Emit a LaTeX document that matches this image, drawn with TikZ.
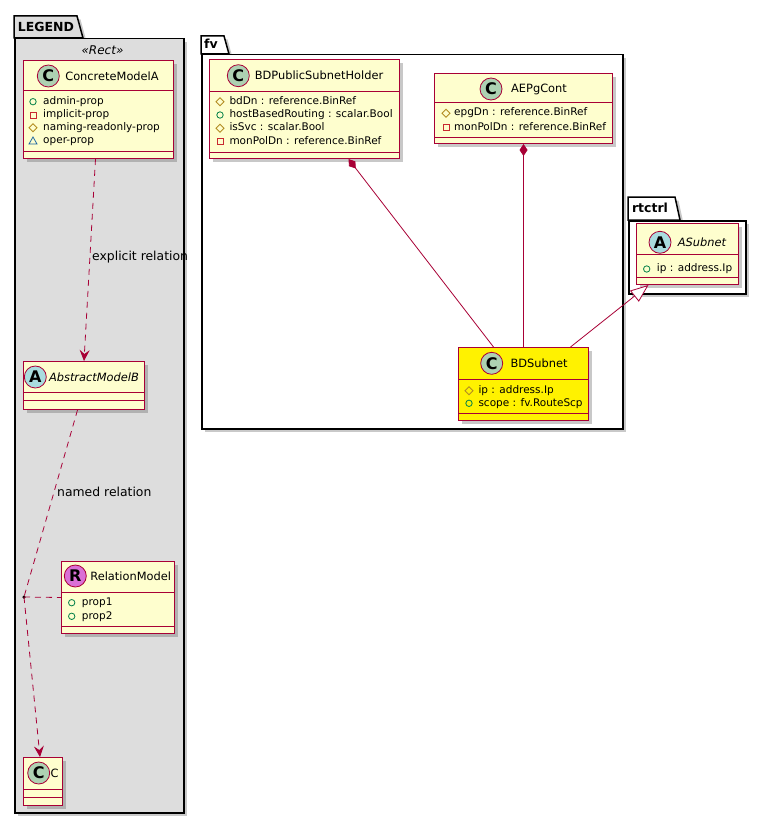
\documentclass[tikz,border=0pt]{standalone}
\usepackage{fontspec}
\setmainfont{DejaVu Sans}
\usetikzlibrary{arrows.meta,shadows,calc}
\definecolor{umlred}{HTML}{A80036}
\definecolor{umlfill}{HTML}{FEFECE}
\definecolor{cgreen}{HTML}{ADD1B2}
\definecolor{acyan}{HTML}{A9DCDF}
\definecolor{rorchid}{HTML}{DA70D6}
\definecolor{legendgray}{HTML}{DDDDDD}
\definecolor{pubc}{HTML}{038048}
\definecolor{prvc}{HTML}{C82930}
\definecolor{protc}{HTML}{B38D22}
\definecolor{pkgc}{HTML}{1963A0}
\tikzset{
 shadowed/.style={drop shadow={shadow xshift=3.5pt, shadow yshift=-3.5pt, opacity=0.3, fill=black!70}},
 pkgbody/.style={draw=black, line width=1.5pt, anchor=north west, inner sep=0pt, shadowed},
 pkgtab/.style={draw=black, line width=1.5pt, shadowed},
 pkgname/.style={font=\fontsize{12.5}{13}\selectfont\bfseries, inner sep=0pt},
 classbox/.style={draw=umlred, fill=umlfill, line width=1pt, anchor=north west, inner sep=0pt, shadowed},
 cline/.style={draw=umlred, line width=1pt},
 spot/.style={circle, draw=umlred, line width=0.8pt, minimum size=22pt, inner sep=0pt, font=\fontsize{16}{16}\selectfont\bfseries},
 cname/.style={font=\fontsize{11.4}{13}\selectfont, inner sep=0pt},
 attr/.style={font=\fontsize{10.5}{12}\selectfont, anchor=west, inner sep=0pt, text height=7.6pt, text depth=2.2pt},
 rel/.style={draw=umlred, line width=0.8pt},
 dashrel/.style={rel, dash pattern=on 6pt off 5pt},
 elabel/.style={font=\fontsize{12.4}{14}\selectfont, anchor=west, inner sep=0pt},
 stereo/.style={font=\fontsize{12}{14}\selectfont\itshape, inner sep=0pt},
 junction/.style={circle, fill=black, inner sep=0pt, minimum size=3.5pt},
 pubv/.pic={\draw[pubc, line width=0.8pt] (0,0) circle (3.2pt);},
 prvv/.pic={\draw[prvc, line width=0.8pt] (-3,-3) rectangle (3,3);},
 protv/.pic={\draw[protc, line width=0.8pt] (0,-4) -- (4,0) -- (0,4) -- (-4,0) -- cycle;},
 pkgv/.pic={\draw[pkgc, line width=0.8pt] (-4,3) -- (4,3) -- (0,-4) -- cycle;},
 dhead/.style={-{Stealth[length=11pt,width=10pt,inset=4pt]}},
 comp/.style={{Diamond[length=12pt,width=8pt]}-},
 gen/.style={-{Triangle[open,length=18pt,width=14pt,fill=white]}}
}
\begin{document}
\begin{tikzpicture}[x=1pt,y=-1pt]
\useasboundingbox (0,0) rectangle (767,824);

% ---------- packages ----------
\draw[pkgtab, fill=legendgray] (14,38) -- (14,16) -- (77,16) -- (83,38) -- cycle;
\node[pkgbody, fill=legendgray, minimum width=169pt, minimum height=774pt] (legend) at (14,38) {};
\node[pkgname] (legendlbl) at (46,27) {LEGEND};
\node[stereo] (rectlbl) at (102.5,50) {«Rect»};

\draw[pkgtab, fill=white] (201,54) -- (201,36) -- (224,36) -- (229,54) -- cycle;
\node[pkgbody, fill=white, minimum width=421pt, minimum height=374pt] (fv) at (201,54) {};
\node[pkgname] (fvlbl) at (211,44) {fv};

\draw[pkgtab, fill=white] (628,220) -- (628,197) -- (675,197) -- (680,220) -- cycle;
\node[pkgbody, fill=white, minimum width=117pt, minimum height=73pt] (rtctrl) at (628,220) {};
\node[pkgname] (rtctrllbl) at (650,208) {rtctrl};

% ---------- ConcreteModelA ----------
\node[classbox, minimum width=150pt, minimum height=98pt] (A) at (23,60) {};
\draw[cline] (23,91) -- (173,91);
\draw[cline] (23,151) -- (173,151);
\node[spot, fill=cgreen] (Aspot) at (48.3,76) {C};
\node[cname] (Aname) at (112,76) {ConcreteModelA};
\pic at (33,101.7) {pubv};  \node[attr] (A1) at (43,101.7) {admin-prop};
\pic at (33,115) {prvv};    \node[attr] (A2) at (43,115) {implicit-prop};
\pic at (33,127.7) {protv}; \node[attr] (A3) at (43,127.7) {naming-readonly-prop};
\pic at (33,141) {pkgv};    \node[attr] (A4) at (43,141) {oper-prop};

% ---------- AbstractModelB ----------
\node[classbox, minimum width=121pt, minimum height=48pt] (B) at (23,361) {};
\draw[cline] (23,392) -- (144,392);
\draw[cline] (23,400) -- (144,400);
\node[spot, fill=acyan] (Bspot) at (35.3,377) {A};
\node[cname, font=\fontsize{11.4}{13}\selectfont\itshape] (Bname) at (94,377) {AbstractModelB};

% ---------- RelationModel ----------
\node[classbox, minimum width=113pt, minimum height=72pt] (R) at (61,561) {};
\draw[cline] (61,592) -- (174,592);
\draw[cline] (61,626) -- (174,626);
\node[spot, fill=rorchid] (Rspot) at (75.3,576) {R};
\node[cname] (Rname) at (130.7,576) {RelationModel};
\pic at (71.7,602.7) {pubv}; \node[attr] (R1) at (81.7,602.7) {prop1};
\pic at (71.7,616.3) {pubv}; \node[attr] (R2) at (81.7,616.3) {prop2};

% ---------- C ----------
\node[classbox, minimum width=39pt, minimum height=48pt] (C) at (23,757) {};
\draw[cline] (23,789) -- (62,789);
\draw[cline] (23,797) -- (62,797);
\node[spot, fill=cgreen] (Cspot) at (38.7,773) {C};
\node[cname] (Cname) at (54.5,773) {C};

% ---------- BDPublicSubnetHolder ----------
\node[classbox, minimum width=190pt, minimum height=99pt] (H) at (209,59) {};
\draw[cline] (209,92) -- (399,92);
\draw[cline] (209,152) -- (399,152);
\node[spot, fill=cgreen] (Hspot) at (238.3,75.7) {C};
\node[cname] (Hname) at (319,75.7) {BDPublicSubnetHolder};
\pic at (220,101.7) {protv}; \node[attr] (H1) at (229.3,101.7) {bdDn : reference.BinRef};
\pic at (220,115) {pubv};    \node[attr] (H2) at (229.3,115) {hostBasedRouting : scalar.Bool};
\pic at (220,128.3) {protv}; \node[attr] (H3) at (229.3,128.3) {isSvc : scalar.Bool};
\pic at (220,141.7) {prvv};  \node[attr] (H4) at (229.3,141.7) {monPolDn : reference.BinRef};

% ---------- AEPgCont ----------
\node[classbox, minimum width=178pt, minimum height=70pt] (P) at (434,73) {};
\draw[cline] (434,103) -- (612,103);
\draw[cline] (434,137) -- (612,137);
\node[spot, fill=cgreen] (Pspot) at (491,89) {C};
\node[cname] (Pname) at (539,89) {AEPgCont};
\pic at (446,113.3) {protv}; \node[attr] (P1) at (454,113.3) {epgDn : reference.BinRef};
\pic at (446,127.7) {prvv};  \node[attr] (P2) at (454,127.7) {monPolDn : reference.BinRef};

% ---------- BDSubnet ----------
\node[classbox, fill=yellow, minimum width=130pt, minimum height=73pt] (S) at (458,347) {};
\draw[cline] (458,379) -- (588,379);
\draw[cline] (458,413) -- (588,413);
\node[spot, fill=cgreen] (Sspot) at (491.7,363.3) {C};
\node[cname] (Sname) at (539,363.3) {BDSubnet};
\pic at (469,390.7) {protv}; \node[attr] (S1) at (478.3,390.7) {ip : address.Ip};
\pic at (469,403.3) {pubv};  \node[attr] (S2) at (478.3,403.3) {scope : fv.RouteScp};

% ---------- ASubnet ----------
\node[classbox, minimum width=102pt, minimum height=61pt] (AS) at (636,223) {};
\draw[cline] (636,254) -- (738,254);
\draw[cline] (636,277) -- (738,277);
\node[spot, fill=acyan] (ASspot) at (660,242.3) {A};
\node[cname, font=\fontsize{11.4}{13}\selectfont\itshape] (ASname) at (702,242.3) {ASubnet};
\pic at (646.7,269) {pubv}; \node[attr] (AS1) at (656.7,269) {ip : address.Ip};

% ---------- connectors ----------
\draw[dashrel, dhead] ([xshift=-3pt]A.south) -- (B.north);
\node[elabel] (lab1) at (92,257) {explicit relation};

\node[junction] (J) at (24,597) {};
\draw[dashrel] ([xshift=-6.5pt]B.south) -- (J.center);
\draw[dashrel, dhead] (J.center) -- ([xshift=-3pt]C.north);
\draw[dashrel] (J.center) -- (R.west);
\node[elabel] (lab2) at (57,492) {named relation};

\draw[rel, comp] ([xshift=44pt]H.south) -- ([xshift=-30pt]S.north);
\draw[rel, comp] (P.south) -- (S.north);
\draw[rel, gen] ([xshift=47pt]S.north) -- ([xshift=-39pt]AS.south);
\end{tikzpicture}
\end{document}
